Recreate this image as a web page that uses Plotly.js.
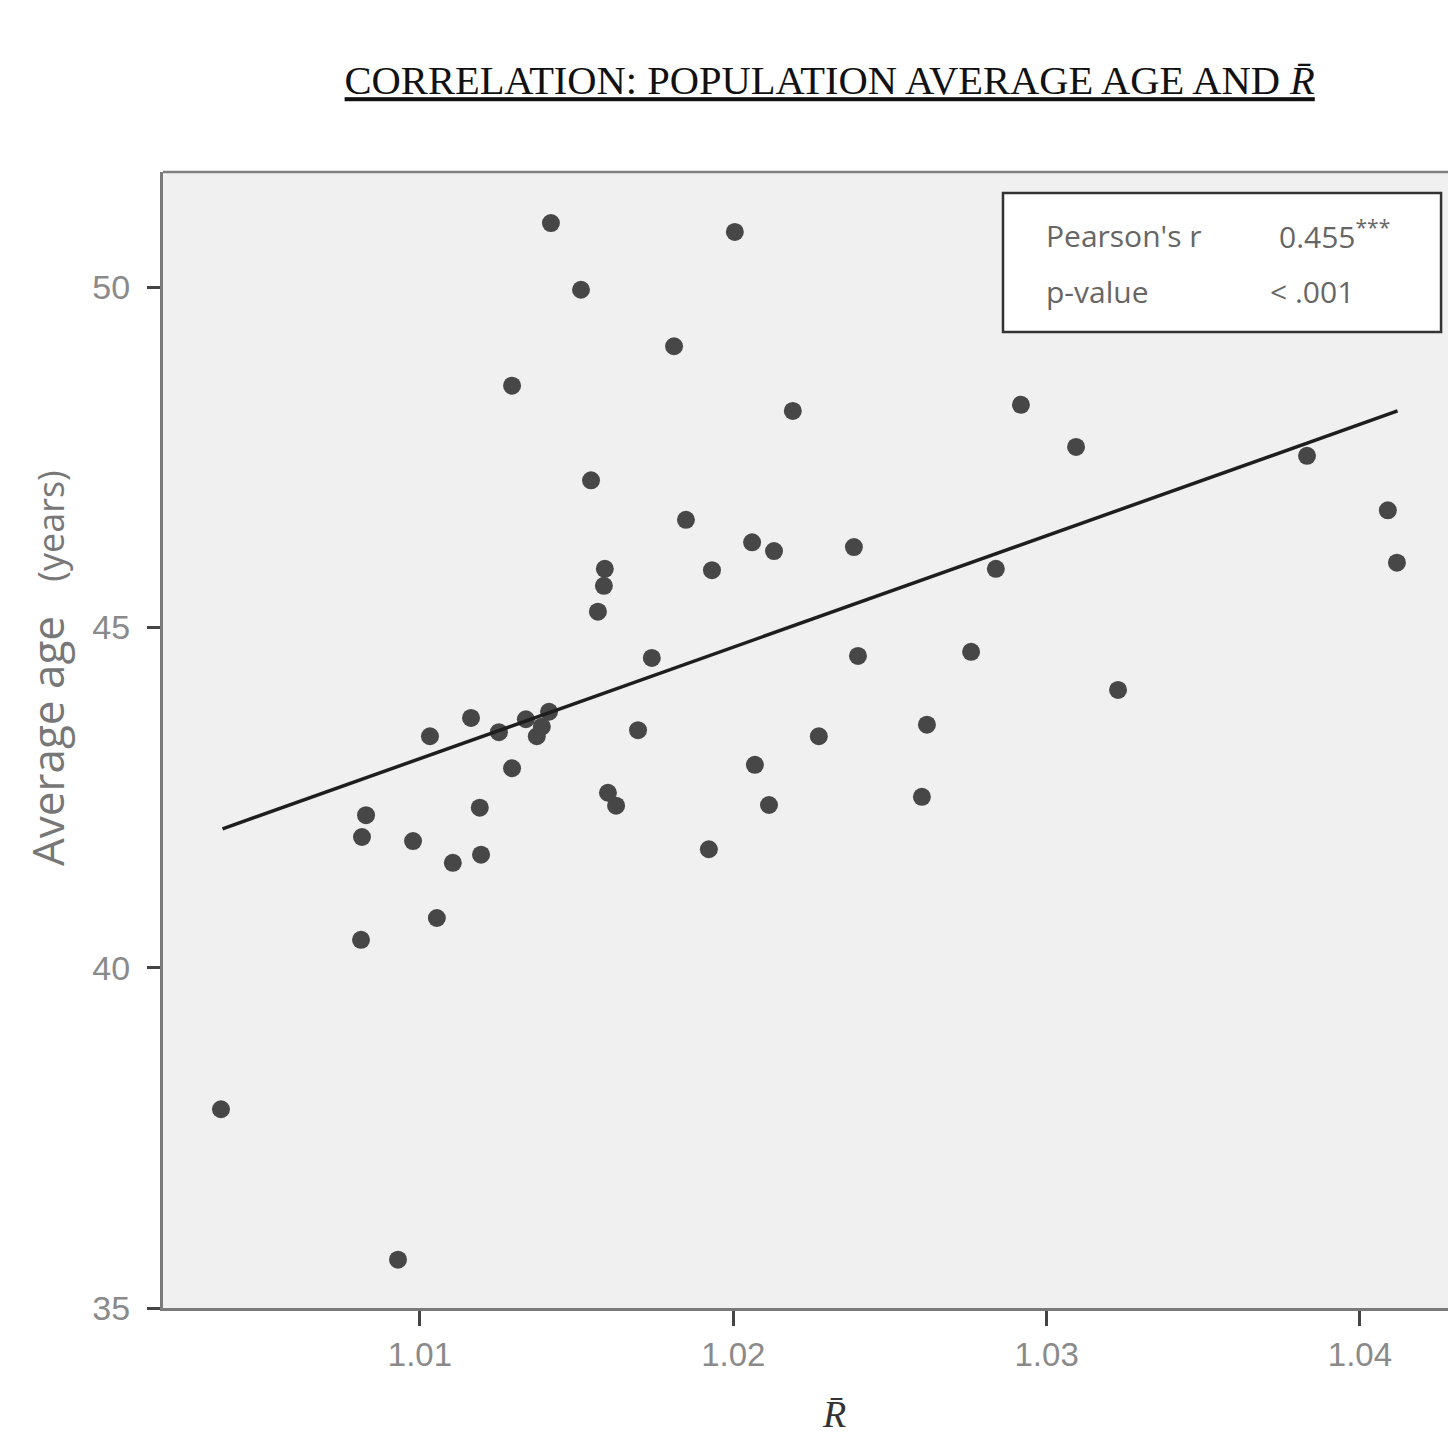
<!DOCTYPE html>
<html>
<head>
<meta charset="utf-8">
<script src="https://cdn.plot.ly/plotly-3.0.1.min.js"></script>
<style>html,body{margin:0;padding:0;background:#fff;}</style>
</head>
<body>
<div id="chart" style="width:1448px;height:1439px;"></div>
<script>
// R-bar values (x) and population average age in years (y)
const rBar = [1.00365, 1.0093, 1.00812, 1.00815, 1.00828, 1.00978, 1.01054, 1.01105, 1.01032, 1.01163,
  1.01191, 1.01195, 1.01252, 1.01294, 1.01338, 1.01373, 1.01389, 1.01412, 1.01294, 1.01418,
  1.01514, 1.01546, 1.0159, 1.01587, 1.01568, 1.016, 1.01626, 1.01696, 1.0174, 1.01811,
  1.01849, 1.01932, 1.01922, 1.02005, 1.0206, 1.02069, 1.0213, 1.02114, 1.0219, 1.02273,
  1.02385, 1.02398, 1.02602, 1.02618, 1.02759, 1.02838, 1.02918, 1.03094, 1.03228, 1.03831,
  1.04089, 1.04118];
const avgAge = [37.92, 35.71, 40.41, 41.92, 42.24, 41.86, 40.73, 41.54, 43.40, 43.67,
  42.35, 41.66, 43.46, 42.93, 43.65, 43.40, 43.54, 43.76, 48.55, 50.94,
  49.96, 47.16, 45.86, 45.61, 45.23, 42.57, 42.38, 43.49, 44.55, 49.13,
  46.58, 45.84, 41.74, 50.81, 46.25, 42.98, 46.12, 42.39, 48.18, 43.40,
  46.18, 44.58, 42.51, 43.57, 44.64, 45.86, 48.27, 47.65, 44.08, 47.52,
  46.72, 45.95];
// fitted line end points
const fitX = [1.0037, 1.0412];
const fitY = [42.04, 48.18];
const xTicks = [1.01, 1.02, 1.03, 1.04];
const yTicks = [35, 40, 45, 50];
const statLabels = ["Pearson's r", "p-value"];
const statValues = ["0.455<sup>***</sup>", "< .001"];
const titleText = 'CORRELATION: POPULATION AVERAGE AGE AND <i>R̄</i>';
const xTitle = '<i>R̄</i>';
const yTitle = 'Average age &nbsp;&nbsp;<span style="font-size:36px">(years)</span>';

const traces = [
  {x: rBar, y: avgAge, type: 'scatter', mode: 'markers',
   marker: {size: 18, color: '#474747'}, hoverinfo: 'x+y', showlegend: false},
  {x: fitX, y: fitY, type: 'scatter', mode: 'lines',
   line: {color: '#1e1e1e', width: 3.5}, hoverinfo: 'skip', showlegend: false}
];

const statFont = {family: 'Open Sans, sans-serif', size: 30, color: '#666'};

const layout = {
  width: 1448, height: 1439,
  margin: {l: 163, r: 0, t: 172, b: 131},
  paper_bgcolor: '#ffffff',
  plot_bgcolor: '#f0f0f0',
  title: {
    text: titleText,
    font: {family: 'Liberation Serif, serif', size: 40.5, color: '#111', lineposition: 'under'},
    x: 0.573, xanchor: 'center', y: 1 - 80/1439, yanchor: 'middle', yref: 'container'
  },
  xaxis: {
    range: [1.0018, 1.04281],
    tickvals: xTicks, ticktext: xTicks.map(v => v.toFixed(2)),
    ticks: 'outside', ticklen: 15, tickwidth: 3, tickcolor: '#444',
    tickfont: {family: 'Liberation Sans, Arial, sans-serif', size: 33, color: '#8a8a8a'},
    showgrid: false, zeroline: false,
    showline: true, linecolor: '#7a7a7a', linewidth: 3
  },
  yaxis: {
    range: [35, 51.69],
    tickvals: yTicks,
    ticks: 'outside', ticklen: 13, tickwidth: 3, tickcolor: '#444',
    ticklabelstandoff: 10,
    tickfont: {family: 'Liberation Sans, Arial, sans-serif', size: 34, color: '#8a8a8a'},
    showgrid: false, zeroline: false,
    showline: true, linecolor: '#7a7a7a', linewidth: 3
  },
  shapes: [
    {type: 'line', xref: 'paper', yref: 'paper', x0: 0, x1: 1, y0: 1, y1: 1,
     line: {color: '#808080', width: 2.5}},
    {type: 'rect', xref: 'paper', yref: 'paper', x0: 0.6537, x1: 0.9946, y0: 0.8592, y1: 0.9815,
     fillcolor: '#ffffff', line: {color: '#333', width: 2.5}, layer: 'above'}
  ],
  annotations: [
    {xref: 'paper', yref: 'paper', x: 0.6856, y: 0.9445, xanchor: 'left', yanchor: 'middle',
     text: statLabels[0], showarrow: false, font: statFont},
    {xref: 'paper', yref: 'paper', x: 0.6856, y: 0.8944, xanchor: 'left', yanchor: 'middle',
     text: statLabels[1], showarrow: false, font: statFont},
    {xref: 'paper', yref: 'paper', x: 0.8669, y: 0.9445, xanchor: 'left', yanchor: 'middle',
     text: statValues[0], showarrow: false, font: statFont},
    {xref: 'paper', yref: 'paper', x: 0.860, y: 0.8944, xanchor: 'left', yanchor: 'middle',
     text: statValues[1], showarrow: false, font: statFont},
    // y axis title
    {xref: 'paper', yref: 'paper', x: (47 - 163)/1285, y: (1308 - 668)/1136,
     xanchor: 'center', yanchor: 'middle', textangle: -90, showarrow: false,
     text: yTitle, font: {family: 'Open Sans, sans-serif', size: 44, color: '#777'}},
    // x axis title, kept just inside the bottom edge
    {xref: 'paper', yref: 'paper', x: (834 - 163)/1285, y: (1308 - 1437)/1136,
     xanchor: 'center', yanchor: 'bottom', showarrow: false,
     text: xTitle, font: {family: 'Liberation Serif, serif', size: 38, color: '#333'}}
  ]
};

Plotly.newPlot('chart', traces, layout, {displayModeBar: false, staticPlot: true});
</script>
</body>
</html>
